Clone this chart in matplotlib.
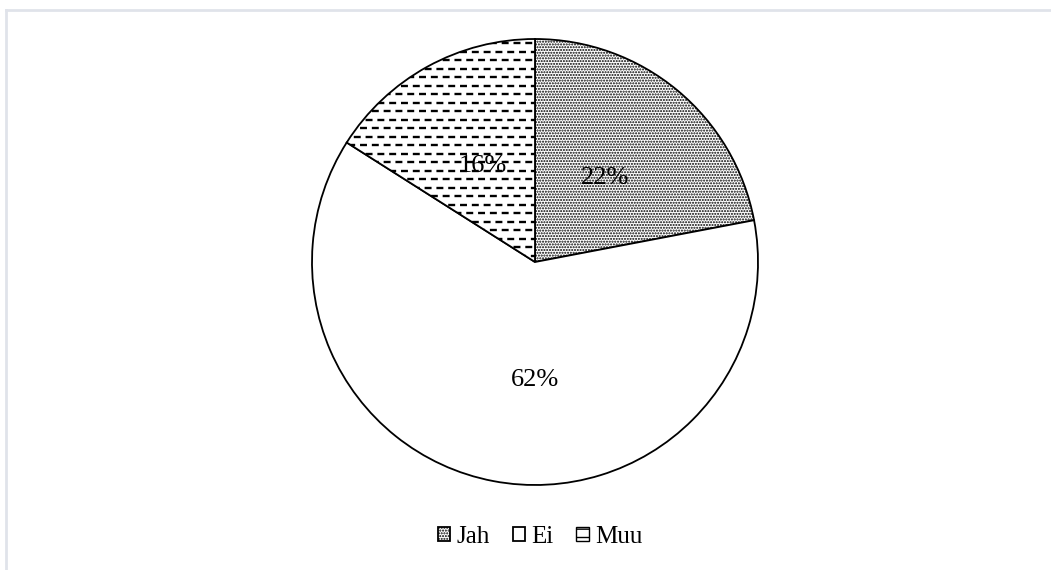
import matplotlib.pyplot as plt
import numpy as np
from matplotlib.lines import Line2D

labels = ['Jah', 'Ei', 'Muu']
shares = [22, 62, 16]

plt.rcParams['font.family'] = ['Liberation Serif', 'DejaVu Serif']
plt.rcParams['hatch.linewidth'] = 1.0
plt.rcParams['lines.scale_dashes'] = False

fig = plt.figure(figsize=(10.51, 5.70), dpi=100)

# pie axes: centre ~ (535, 262) px, radius ~ 223 px
r_px = 223
cx, cy = 535, 262
ax = fig.add_axes([(cx - r_px) / 1051, (570 - cy - r_px) / 570, 2 * r_px / 1051, 2 * r_px / 570])

wedges, texts, autotexts = ax.pie(
    shares, startangle=90, counterclock=False,
    colors=['white'] * 3, autopct='%1.0f%%', pctdistance=0.49,
    wedgeprops=dict(edgecolor='black', linewidth=1.3),
    textprops=dict(fontsize=19, color='black'))
ax.set_xlim(-1, 1)
ax.set_ylim(-1, 1)
ax.set_aspect('auto')

wedges[0].set_hatch('......')

# dashed horizontal lines inside the "Muu" slice
ys = np.arange(-1, 1, 8.5 / r_px)
for i, y in enumerate(ys):
    off = 0 if i % 2 == 0 else 4.5
    ln, = ax.plot([-1.05, 1.05], [y, y], color='black', lw=1.7,
                  linestyle=(off, (5.0, 3.5)), dash_capstyle='butt', zorder=1.5)
    ln.set_clip_path(wedges[2])

autotexts[1].set_position((0.0, -0.53))
for t in autotexts:
    t.set_zorder(5)

# legend handles
h_muu = plt.Rectangle((0, 0), 1, 1, facecolor='white', edgecolor='black', hatch='--')
fig.legend([wedges[0], wedges[1], h_muu], labels, loc='center', bbox_to_anchor=(540 / 1051, 1 - 537 / 570),
           ncol=3, frameon=False, fontsize=18, handlelength=0.5, handleheight=0.5,
           handletextpad=0.25, columnspacing=0.9)

# light frame lines
fig.add_artist(Line2D([6 / 1051, 1], [1 - 10 / 570, 1 - 10 / 570], color='#e0e3ea', lw=2))
fig.add_artist(Line2D([6 / 1051, 6 / 1051], [0, 1 - 10 / 570], color='#e0e3ea', lw=2))

fig.savefig('out.png', dpi=100)
